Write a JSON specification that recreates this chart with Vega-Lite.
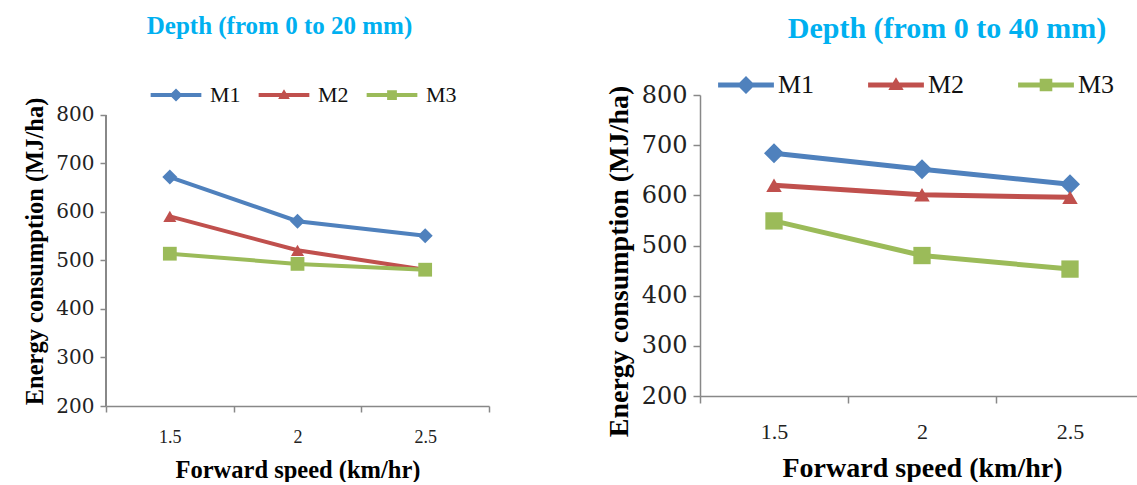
{
  "$schema": "https://vega.github.io/schema/vega-lite/v6.json",
  "background": "white",
  "padding": {"left": 22, "top": 14, "right": 0, "bottom": 0},
  "datasets": {
    "energy": [
      {"depth": "20", "speed": "1.5", "series": "M1", "energy": 672},
      {"depth": "20", "speed": "2", "series": "M1", "energy": 581},
      {"depth": "20", "speed": "2.5", "series": "M1", "energy": 551},
      {"depth": "20", "speed": "1.5", "series": "M2", "energy": 591},
      {"depth": "20", "speed": "2", "series": "M2", "energy": 521},
      {"depth": "20", "speed": "2.5", "series": "M2", "energy": 481},
      {"depth": "20", "speed": "1.5", "series": "M3", "energy": 514},
      {"depth": "20", "speed": "2", "series": "M3", "energy": 493},
      {"depth": "20", "speed": "2.5", "series": "M3", "energy": 481},
      {"depth": "40", "speed": "1.5", "series": "M1", "energy": 684},
      {"depth": "40", "speed": "2", "series": "M1", "energy": 652},
      {"depth": "40", "speed": "2.5", "series": "M1", "energy": 622},
      {"depth": "40", "speed": "1.5", "series": "M2", "energy": 620},
      {"depth": "40", "speed": "2", "series": "M2", "energy": 601},
      {"depth": "40", "speed": "2.5", "series": "M2", "energy": 596},
      {"depth": "40", "speed": "1.5", "series": "M3", "energy": 549},
      {"depth": "40", "speed": "2", "series": "M3", "energy": 480},
      {"depth": "40", "speed": "2.5", "series": "M3", "energy": 453}
    ]
  },
  "data": {"name": "energy"},
  "spacing": 115,
  "hconcat": [
    {
      "width": 383,
      "height": 311,
      "title": {"text": "Depth (from 0 to 20 mm)", "font": "Liberation Serif", "fontSize": 25, "fontWeight": "bold", "color": "#00B0F0", "frame": "group", "anchor": "middle", "dx": -18, "offset": 45},
      "transform": [{"filter": "datum.depth == '20'"}],
      "encoding": {
        "x": {"field": "speed", "type": "ordinal", "sort": ["1.5", "2", "2.5"],
          "scale": {"type": "band", "paddingInner": 0, "paddingOuter": 0},
          "axis": {"title": "Forward speed (km/hr)", "labelAngle": 0, "tickBand": "extent", "labelFont": "Liberation Serif", "labelFontSize": 18, "labelColor": "#222", "labelPadding": 16, "titleFont": "Liberation Serif", "titleFontSize": 24.5, "titleFontWeight": "bold", "titleColor": "#000", "titlePadding": 12, "domainColor": "#888", "tickColor": "#888", "tickSize": 6, "domainWidth": 1.5, "tickWidth": 1.5}},
        "y": {"field": "energy", "type": "quantitative",
          "scale": {"domain": [200, 841.2], "nice": false, "zero": false},
          "axis": {"title": "Energy consumption (MJ/ha)", "titleY": 156, "values": [200, 300, 400, 500, 600, 700, 800], "grid": false, "domain": false, "labelFont": "DejaVu Serif", "labelFontSize": 20, "labelColor": "#222", "labelPadding": 6, "titleFont": "Liberation Serif", "titleFontSize": 24.5, "titleFontWeight": "bold", "titleColor": "#000", "titlePadding": 8, "tickColor": "#888", "tickSize": 6, "tickWidth": 1.5}}
      },
      "layer": [
        {"mark": {"type": "rule", "color": "#888", "strokeWidth": 1.5},
          "encoding": {"x": {"datum": "1.5", "type": "ordinal", "bandPosition": 0}, "y": {"datum": 200, "type": "quantitative"}, "y2": {"datum": 800}}},
        {"mark": {"type": "line", "strokeWidth": 4},
          "encoding": {"color": {"field": "series", "type": "nominal", "scale": {"domain": ["M1", "M2", "M3"], "range": ["#4F81BD", "#C0504D", "#9BBB59"]}, "legend": null}}},
        {"transform": [{"filter": "datum.series == 'M1'"}], "mark": {"type": "point", "shape": "diamond", "filled": true, "opacity": 1, "size": 225, "color": "#4F81BD"}},
        {"transform": [{"filter": "datum.series == 'M2'"}], "mark": {"type": "point", "shape": "triangle-up", "filled": true, "opacity": 1, "size": 170, "color": "#C0504D"}},
        {"transform": [{"filter": "datum.series == 'M3'"}], "mark": {"type": "point", "shape": "square", "filled": true, "opacity": 1, "size": 190, "color": "#9BBB59"}},
        {"transform": [{"filter": "datum.energy < 0"}],
          "mark": {"type": "point", "filled": true, "opacity": 1},
          "encoding": {
            "color": {"field": "series", "type": "nominal", "title": null,
              "scale": {"domain": ["M1", "M2", "M3"], "range": ["#4F81BD", "#C0504D", "#9BBB59"]},
              "legend": {"orient": "top", "direction": "horizontal", "title": " ", "titleOrient": "left", "titleFontSize": 22, "titlePadding": 26, "symbolSize": 169, "symbolStrokeWidth": 0, "symbolOpacity": 1, "labelFont": "Liberation Serif", "labelFontSize": 22, "labelColor": "#111", "labelOffset": 23, "columnPadding": 17, "offset": -11, "padding": 0}},
            "shape": {"field": "series", "type": "nominal", "title": null,
              "scale": {"domain": ["M1", "M2", "M3"], "range": [
                "M-3.9,-0.3 L3.9,-0.3 L3.9,0.3 L-3.9,0.3 Z M0,-1 L1,0 L0,1 L-1,0 Z",
                "M-3.9,-0.3 L3.9,-0.3 L3.9,0.3 L-3.9,0.3 Z M0,-0.9 L0.9,0.6 L-0.9,0.6 Z",
                "M-3.9,-0.3 L3.9,-0.3 L3.9,0.3 L-3.9,0.3 Z M-0.75,-0.75 L0.75,-0.75 L0.75,0.75 L-0.75,0.75 Z"
              ]},
              "legend": {"orient": "top", "direction": "horizontal", "title": " "}}
          }}
      ],
      "resolve": {"scale": {"color": "independent", "shape": "independent"}, "legend": {"color": "independent", "shape": "independent"}}
    },
    {
      "width": 444,
      "height": 301,
      "title": {"text": "Depth (from 0 to 40 mm)", "font": "Liberation Serif", "fontSize": 30, "fontWeight": "bold", "color": "#00B0F0", "frame": "group", "anchor": "middle", "dx": 25, "offset": 28},
      "transform": [{"filter": "datum.depth == '40'"}],
      "encoding": {
        "x": {"field": "speed", "type": "ordinal", "sort": ["1.5", "2", "2.5"],
          "scale": {"type": "band", "paddingInner": 0, "paddingOuter": 0},
          "axis": {"title": "Forward speed (km/hr)", "labelAngle": 0, "tickBand": "extent", "labelFont": "Liberation Serif", "labelFontSize": 22, "labelColor": "#222", "labelPadding": 18, "titleFont": "Liberation Serif", "titleFontSize": 28, "titleFontWeight": "bold", "titleColor": "#000", "titlePadding": 12, "domainColor": "#888", "tickColor": "#888", "tickSize": 7, "domainWidth": 1.5, "tickWidth": 1.5}},
        "y": {"field": "energy", "type": "quantitative",
          "scale": {"domain": [200, 800], "nice": false, "zero": false},
          "axis": {"title": "Energy consumption (MJ/ha)", "titleY": 166, "values": [200, 300, 400, 500, 600, 700, 800], "grid": false, "labelFont": "DejaVu Serif", "labelFontSize": 24, "labelColor": "#222", "labelPadding": 6, "titleFont": "Liberation Serif", "titleFontSize": 28, "titleFontWeight": "bold", "titleColor": "#000", "titlePadding": 8, "domainColor": "#888", "tickColor": "#888", "tickSize": 7, "domainWidth": 1.5, "tickWidth": 1.5}}
      },
      "layer": [
        {"mark": {"type": "line", "strokeWidth": 5},
          "encoding": {"color": {"field": "series", "type": "nominal", "scale": {"domain": ["M1", "M2", "M3"], "range": ["#4F81BD", "#C0504D", "#9BBB59"]}, "legend": null}}},
        {"transform": [{"filter": "datum.series == 'M1'"}], "mark": {"type": "point", "shape": "diamond", "filled": true, "opacity": 1, "size": 400, "color": "#4F81BD"}},
        {"transform": [{"filter": "datum.series == 'M2'"}], "mark": {"type": "point", "shape": "triangle-up", "filled": true, "opacity": 1, "size": 240, "color": "#C0504D"}},
        {"transform": [{"filter": "datum.series == 'M3'"}], "mark": {"type": "point", "shape": "square", "filled": true, "opacity": 1, "size": 300, "color": "#9BBB59"}},
        {"transform": [{"filter": "datum.energy < 0"}],
          "mark": {"type": "point", "filled": true, "opacity": 1},
          "encoding": {
            "color": {"field": "series", "type": "nominal", "title": null,
              "scale": {"domain": ["M1", "M2", "M3"], "range": ["#4F81BD", "#C0504D", "#9BBB59"]},
              "legend": {"orient": "top", "direction": "horizontal", "title": " ", "titleOrient": "left", "titleFontSize": 26, "titlePadding": 3, "symbolSize": 324, "symbolStrokeWidth": 0, "symbolOpacity": 1, "labelFont": "Liberation Serif", "labelFontSize": 26, "labelColor": "#111", "labelOffset": 19, "columnPadding": 53, "offset": -3, "padding": 0}},
            "shape": {"field": "series", "type": "nominal", "title": null,
              "scale": {"domain": ["M1", "M2", "M3"], "range": [
                "M-3.1,-0.27 L3.1,-0.27 L3.1,0.27 L-3.1,0.27 Z M0,-1 L1,0 L0,1 L-1,0 Z",
                "M-3.1,-0.27 L3.1,-0.27 L3.1,0.27 L-3.1,0.27 Z M0,-0.85 L0.85,0.55 L-0.85,0.55 Z",
                "M-3.1,-0.27 L3.1,-0.27 L3.1,0.27 L-3.1,0.27 Z M-0.7,-0.7 L0.7,-0.7 L0.7,0.7 L-0.7,0.7 Z"
              ]},
              "legend": {"orient": "top", "direction": "horizontal", "title": " "}}
          }}
      ],
      "resolve": {"scale": {"color": "independent", "shape": "independent"}, "legend": {"color": "independent", "shape": "independent"}}
    }
  ],
  "config": {
    "view": {"stroke": null},
    "concat": {"spacing": 115},
    "legend": {"layout": {"top": {"anchor": "middle"}}}
  }
}
